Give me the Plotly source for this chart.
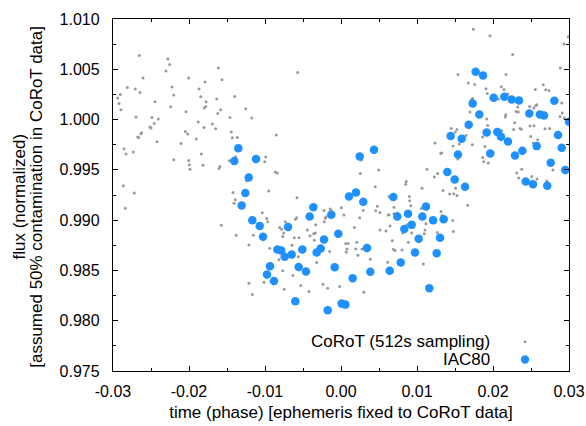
import plotly.graph_objects as go

# ---------------- data ----------------
corot_phase = [
 -0.02654,-0.02280,-0.02254,-0.02303,-0.01614,-0.02605,-0.02004,-0.01566,-0.01789,-0.02812,
 -0.02707,-0.02645,-0.02224,-0.01868,-0.02904,-0.02201,-0.01846,-0.01399,-0.02938,-0.02921,
 -0.02447,-0.01776,-0.01636,-0.02895,-0.02241,-0.01780,-0.01799,-0.01254,-0.01583,-0.02039,
 -0.01622,-0.02697,-0.02487,-0.02404,-0.01461,-0.01175,-0.02457,-0.01878,-0.01693,-0.01803,
 -0.02513,-0.02500,-0.01649,-0.02049,-0.02017,-0.01443,-0.02622,-0.02632,-0.02675,-0.02662,
 -0.01430,-0.01364,-0.00851,-0.01904,-0.02421,-0.02105,-0.02855,-0.02829,-0.02733,-0.01838,
 -0.01386,-0.00991,-0.01004,-0.02201,-0.02004,-0.01996,-0.01987,-0.01816,-0.01592,-0.01605,
 -0.01470,-0.00864,-0.00838,-0.02864,-0.02720,-0.01421,-0.00951,-0.01241,-0.01391,-0.01408,
 -0.02838,-0.01575,-0.00570,0.01741,0.01961,0.02259,0.02934,0.02991,-0.00579,-0.01036,
 -0.00978,-0.00964,-0.01378,-0.01154,-0.01211,-0.00807,-0.00780,-0.00733,-0.00754,-0.00767,
 -0.00601,-0.00583,-0.00614,-0.00553,-0.00645,-0.00443,-0.00408,-0.00359,-0.00338,-0.00351,
 -0.00333,-0.00224,-0.00141,-0.00128,-0.00207,-0.00197,-0.00220,0.00004,0.00039,0.00088,
 0.00293,0.00457,0.00513,0.00478,0.00246,0.00175,0.00513,0.00592,0.00622,0.00062,
 0.00092,0.00079,0.00193,0.00207,0.00224,0.00070,-0.00149,0.00386,0.00276,0.00614,
 0.00496,0.00451,0.00254,0.00267,0.00632,-0.00938,-0.00816,-0.00767,-0.00632,-0.00562,
 -0.00320,-0.01211,-0.01013,-0.01167,-0.00746,-0.00530,-0.00421,-0.00237,-0.00175,-0.00017,
 0.00299,0.02886,0.01539,0.02171,0.01675,0.01759,0.01908,0.02109,0.02145,0.02662,
 0.02693,0.02737,0.02557,0.01925,0.01733,0.01714,0.02070,0.02197,0.02325,0.02303,
 0.02333,0.02483,0.02536,0.02562,0.02575,0.02904,0.02167,0.02162,0.01697,0.02882,
 0.02912,0.02938,0.01917,0.02286,0.02539,0.02487,0.02355,0.02372,0.02272,0.02684,
 0.02746,0.01526,0.01504,0.01451,0.01930,0.02114,0.01645,0.01596,0.01864,0.02496,
 0.02588,0.02530,0.01557,0.01474,0.01728,0.01237,0.01895,0.01325,0.01312,0.01864,
 0.01878,0.01938,0.01536,0.02789,0.01132,0.01228,0.01272,0.01667,0.00859,0.00851,
 0.01066,0.01342,0.01430,0.01483,0.01526,0.01509,0.02312,0.02338,0.02378,0.02509,
 0.02579,0.02707,0.00899,0.00904,0.00917,0.00697,0.01057,0.01128,0.00632,0.00697,
 0.00741,0.01316,0.01470,0.01329,0.00645,0.00868,0.01118,0.01105,0.01096,0.01237,
 0.01478,0.01267,0.00930,0.00886,0.00812,0.00675,0.00688,0.00711,0.00803,0.01083,
]
corot_flux = [
 1.00638,1.00602,1.00548,1.00483,1.00512,1.00413,1.00413,1.00396,1.00373,1.00319,
 1.00303,1.00270,1.00323,1.00303,1.00250,1.00244,1.00227,1.00230,1.00214,1.00160,
 1.00177,1.00177,1.00204,1.00098,1.00127,1.00130,1.00114,1.00107,1.00098,1.00078,
 1.00061,1.00025,1.00021,1.00005,1.00021,1.00015,0.99961,0.99975,0.99955,0.99921,
 0.99925,0.99915,0.99908,0.99882,0.99856,0.99876,0.99869,0.99859,0.99826,0.99822,
 0.99819,0.99822,0.99846,0.99806,0.99779,0.99762,0.99709,0.99657,0.99677,0.99657,
 0.99630,0.99627,0.99580,0.99600,0.99593,0.99550,0.99507,0.99547,0.99533,0.99513,
 0.99590,0.99478,0.99468,0.99341,0.99269,0.99275,0.99289,0.99391,0.99202,0.99169,
 0.99119,0.98950,1.00469,1.00897,1.00834,1.00648,1.00751,1.00824,0.99222,0.99073,
 0.99016,0.98983,0.98851,0.98851,0.98754,0.98926,0.98910,0.98983,0.98871,0.98837,
 0.99010,0.99023,0.98824,0.98824,0.98751,0.98903,0.98844,0.98864,0.98871,0.98801,
 0.98953,0.99096,0.99112,0.99093,0.99020,0.99033,0.98983,0.99122,0.99050,0.99239,
 0.99096,0.99093,0.99076,0.99139,0.99023,0.98926,0.98903,0.98891,0.99050,0.98767,
 0.98767,0.98714,0.98714,0.98781,0.98652,0.98682,0.98688,0.98612,0.98714,0.98582,
 0.99498,0.99331,0.99464,0.99597,0.99235,0.98721,0.98605,0.98496,0.98449,0.98635,
 0.98578,0.98373,0.98383,0.98260,0.98313,0.98349,0.98290,0.98363,0.98323,0.98339,
 0.98284,1.00512,1.00449,1.00449,1.00363,1.00349,1.00306,1.00326,1.00299,1.00346,
 1.00297,1.00290,1.00299,1.00260,1.00210,1.00197,1.00204,1.00254,1.00124,1.00081,
 1.00075,1.00130,1.00114,1.00137,1.00147,1.00164,1.00048,1.00025,1.00075,1.00031,
 1.00065,1.00015,1.00005,0.99968,0.99938,0.99935,0.99911,0.99905,0.99901,0.99908,
 0.99911,0.99901,0.99876,0.99911,0.99941,0.99889,0.99842,0.99796,0.99826,0.99832,
 0.99799,0.99766,0.99756,0.99736,0.99749,0.99766,0.99732,0.99667,0.99663,0.99623,
 0.99580,0.99567,0.99607,0.99498,0.99507,0.99428,0.99464,0.99149,0.99384,0.99358,
 0.99318,0.99295,0.99259,0.99262,0.99245,0.99318,0.99468,0.99418,0.99507,0.99434,
 0.99408,0.99388,0.99235,0.99192,0.99142,0.99129,0.99115,0.99112,0.99053,0.99063,
 0.99070,0.99086,0.98996,0.99046,0.98943,0.98953,0.98963,0.98903,0.98864,0.98973,
 0.98887,0.98877,0.98871,0.98781,0.98871,0.98794,0.98711,0.98698,0.98704,0.98565,
]

iac80_phase = [
 -0.01351,-0.01404,-0.01118,-0.01214,-0.01259,-0.01307,-0.01167,-0.01070,-0.01026,-0.00697,
 -0.00838,-0.00786,-0.00741,-0.00649,-0.00934,-0.00974,-0.00882,-0.00557,-0.00461,-0.00509,
 -0.00601,-0.00412,-0.00364,-0.00224,-0.00267,-0.00320,-0.00175,-0.00128,-0.00036,-0.00083,
 0.00009,0.00057,0.00154,0.00105,0.00197,0.00293,0.00246,0.00434,0.00342,0.00386,
 0.00641,0.00688,0.00741,0.00882,0.00930,0.00833,0.01022,0.01070,0.01118,0.01211,
 0.01351,0.01303,0.00974,0.01259,0.00786,0.01162,0.01399,0.01496,0.01632,0.01539,
 0.01443,0.01588,0.01680,0.01820,0.01733,0.01772,0.01868,0.01917,0.02057,0.02105,
 0.02197,0.01964,0.02009,0.02149,0.02246,0.02342,0.02289,0.02386,0.02430,0.02526,
 0.02714,0.02575,0.02478,0.02618,0.02671,0.02807,0.02855,0.02904,0.02759,0.02951,
 0.03000,
]
iac80_flux = [
 0.99716,0.99587,0.99607,0.99424,0.99269,0.99145,0.99000,0.98943,0.98834,0.98933,
 0.98708,0.98698,0.98635,0.98658,0.98542,0.98459,0.98396,0.98535,0.98489,0.98708,
 0.98194,0.99036,0.99129,0.98807,0.98717,0.98678,0.98105,0.99053,0.98864,0.98532,
 0.98170,0.98160,0.98423,0.99235,0.99275,0.99182,0.99633,0.99700,0.98724,0.98486,
 0.98496,0.99229,0.99036,0.99063,0.98953,0.98913,0.98814,0.99036,0.99135,0.99000,
 0.99010,0.98824,0.98678,0.98672,0.98578,0.98323,0.99478,0.99404,0.99331,0.99653,
 0.99836,0.99809,0.99948,1.00051,1.00160,1.00476,1.00439,0.99872,0.99876,0.99829,
 0.99782,0.99663,1.00217,1.00227,1.00200,1.00190,0.99643,0.99690,0.99384,0.99358,
 0.99341,0.99736,1.00061,1.00051,1.00041,1.00187,0.99846,0.99719,0.99570,0.99498,
 0.99978,
]

x_tick_vals = [-0.03, -0.02, -0.01, 0.0, 0.01, 0.02, 0.03]
x_tick_text = ["-0.03", "-0.02", "-0.01", "0.00", "0.01", "0.02", "0.03"]
y_tick_vals = [0.975, 0.980, 0.985, 0.990, 0.995, 1.000, 1.005, 1.010]
y_tick_text = ["0.975", "0.980", "0.985", "0.990", "0.995", "1.000", "1.005", "1.010"]

legend_labels = ["CoRoT (512s sampling)", "IAC80"]
x_title = "time (phase) [ephemeris fixed to CoRoT data]"
y_title_lines = ["flux (normalized)", "[assumed 50% contamination in CoRoT data]"]

GRAY = "#9a9a9a"
BLUE = "#1E90FF"
FONT = "Liberation Sans, Arial, sans-serif"
TICK_SIZE = 16
TEXT_SIZE = 17

fig = go.Figure()
fig.add_trace(go.Scatter(x=corot_phase, y=corot_flux, mode="markers",
                         marker=dict(color=GRAY, size=3, line=dict(width=0)),
                         name=legend_labels[0], showlegend=False))
fig.add_trace(go.Scatter(x=iac80_phase, y=iac80_flux, mode="markers",
                         marker=dict(color=BLUE, size=8.5, line=dict(width=0)),
                         name=legend_labels[1], showlegend=False))

# gnuplot-style legend: right-aligned text, key symbol to the right
leg_text_x = 0.829
leg_key_x = 0.9035
leg_rows_y = [0.0825, 0.0325]
for lbl, yy in zip(legend_labels, leg_rows_y):
    fig.add_annotation(xref="paper", yref="paper", x=leg_text_x, y=yy,
                       text=lbl, showarrow=False, xanchor="right", yanchor="middle",
                       borderpad=0, font=dict(family=FONT, size=TEXT_SIZE, color="black"))
fig.add_shape(type="circle", xref="paper", yref="paper", xsizemode="pixel", ysizemode="pixel",
              xanchor=leg_key_x, yanchor=leg_rows_y[0], x0=-1.4, x1=1.4, y0=-1.4, y1=1.4,
              fillcolor=GRAY, line=dict(width=0))
fig.add_shape(type="circle", xref="paper", yref="paper", xsizemode="pixel", ysizemode="pixel",
              xanchor=leg_key_x, yanchor=leg_rows_y[1], x0=-4.2, x1=4.2, y0=-4.2, y1=4.2,
              fillcolor=BLUE, line=dict(width=0))

# y-axis title as two rotated lines (tight gnuplot line spacing)
for line_txt, xp in zip(y_title_lines, [-0.2060, -0.1680]):
    fig.add_annotation(xref="paper", yref="paper", x=xp, y=0.496, text=line_txt,
                       textangle=-90, showarrow=False, xanchor="center", yanchor="middle",
                       borderpad=0, font=dict(family=FONT, size=TEXT_SIZE, color="black"))

axis_common = dict(showgrid=False, zeroline=False, showline=True, linecolor="black",
                   linewidth=1.3, mirror="allticks", ticks="inside", ticklen=5,
                   tickwidth=1, tickcolor="black",
                   tickfont=dict(family=FONT, size=TICK_SIZE, color="black"))

fig.update_xaxes(range=[-0.03, 0.03], tickvals=x_tick_vals, ticktext=x_tick_text,
                 minor=dict(dtick=0.005, tick0=0, ticks="inside", ticklen=3, tickcolor="black"),
                 ticklabelstandoff=6,
                 title=dict(text=x_title, font=dict(family=FONT, size=TEXT_SIZE, color="black"),
                            standoff=6),
                 **axis_common)
fig.update_yaxes(range=[0.975, 1.010], tickvals=y_tick_vals, ticktext=y_tick_text,
                 minor=dict(dtick=0.0025, tick0=0.975, ticks="inside", ticklen=3, tickcolor="black"),
                 ticklabelstandoff=9,
                 **axis_common)

fig.update_layout(width=586, height=426, paper_bgcolor="white", plot_bgcolor="white",
                  margin=dict(l=113, r=17, t=19, b=55, autoexpand=False), showlegend=False,
                  font=dict(family=FONT, size=TEXT_SIZE, color="black"))

fig.write_html("out.html", config={"displayModeBar": False},
               post_script="document.body.style.margin='0px';document.body.style.overflow='hidden';")
